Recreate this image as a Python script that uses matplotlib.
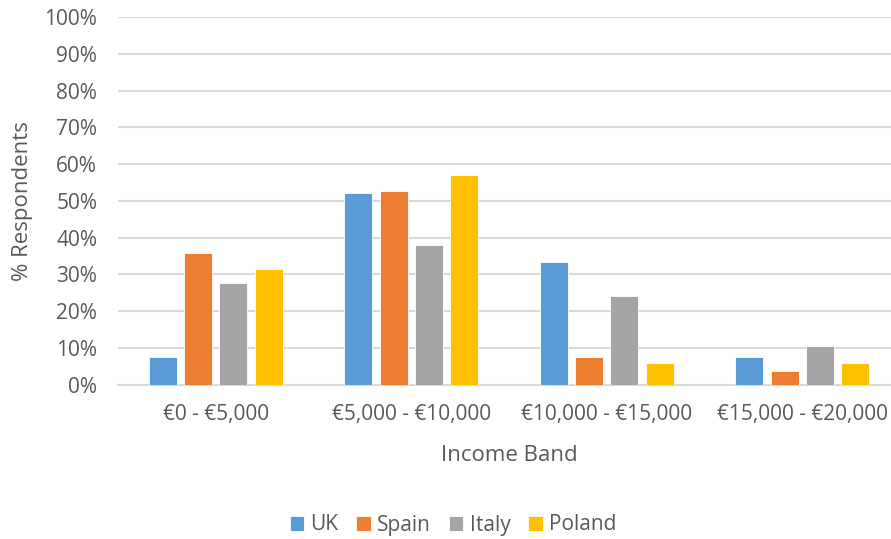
import matplotlib
matplotlib.use("Agg")
import matplotlib.pyplot as plt
import numpy as np
from matplotlib.ticker import FuncFormatter

# Income bands and share of respondents (%) per country
bands = ["€0 - €5,000", "€5,000 - €10,000", "€10,000 - €15,000", "€15,000 - €20,000"]
countries = ["UK", "Spain", "Italy", "Poland"]
uk = [7.5, 52.0, 33.3, 7.5]
spain = [35.9, 52.6, 7.6, 3.8]
italy = [27.6, 38.0, 24.2, 10.4]
poland = [31.4, 56.9, 5.9, 5.9]
colors = ["#5B9BD5", "#ED7D31", "#A5A5A5", "#FFC000"]

series = [uk, spain, italy, poland]

plt.rcParams["font.family"] = ["Open Sans", "DejaVu Sans"]
text_color = "#595959"
grid_color = "#D9D9D9"

fig = plt.figure(figsize=(8.91, 5.39), dpi=100)
ax = fig.add_axes([118 / 891, 1 - 384.7 / 539, (900 - 118) / 891, (384.7 - 17) / 539])

x = np.arange(len(bands))
width = 0.143
step = 0.181
offsets = (np.arange(len(countries)) - 1.5) * step
for vals, name, col, off in zip(series, countries, colors, offsets):
    ax.bar(x + off, vals, width=width, color=col, label=name,
           edgecolor="white", linewidth=0.6, zorder=3)

ax.set_xlim(-0.5, len(bands) - 0.5)
ax.set_ylim(0, 100)
ax.set_yticks(np.arange(0, 101, 10))
ax.yaxis.set_major_formatter(FuncFormatter(lambda v, p: f"{v:.0f}%"))
ax.set_xticks(x)
ax.set_xticklabels(bands)

ax.grid(axis="y", color=grid_color, linewidth=1.5, zorder=0)
ax.set_axisbelow(True)
for s in ["top", "right", "left"]:
    ax.spines[s].set_visible(False)
ax.spines["bottom"].set_color(grid_color)
ax.spines["bottom"].set_linewidth(1.5)

ax.tick_params(axis="both", length=0, labelsize=15, colors=text_color)
ax.tick_params(axis="y", pad=15)
ax.tick_params(axis="x", pad=14)

ax.set_xlabel("Income Band", fontsize=16, color=text_color, labelpad=14)
ax.set_ylabel("% Respondents", fontsize=16, color=text_color, labelpad=8)

fig.legend(loc="center", bbox_to_anchor=(453 / 891, 1 - 525 / 539), ncol=4,
           frameon=False, fontsize=15, labelcolor=text_color,
           handlelength=0.7, handleheight=0.7, handletextpad=0.3,
           columnspacing=0.85)

fig.savefig("out.png", dpi=100)
